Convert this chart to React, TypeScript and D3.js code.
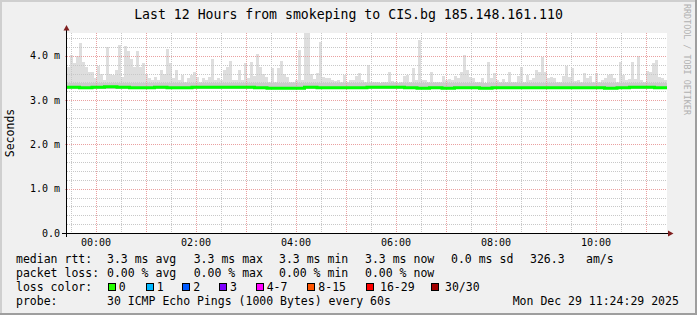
import React from "react";
import * as d3 from "d3";

const TITLE = "Last 12 Hours from smokeping to CIS.bg 185.148.161.110";
const END_TIME = new Date(2025, 11, 29, 11, 24, 29);
const SPAN_HOURS = 12;
const Y_TICKS = [0, 1, 2, 3, 4];
const Y_TICK_LABELS = ["0.0", "1.0 m", "2.0 m", "3.0 m", "4.0 m"];
const X_TICK_HOURS = [0, 2, 4, 6, 8, 10];
const X_TICK_LABELS = ["00:00", "02:00", "04:00", "06:00", "08:00", "10:00"];

// Max ping (ms) per 3.6-minute column, read from the smoke
const smokeMax = [
  3.75, 4.02, 3.83, 4.0, 4.3, 3.87, 3.74, 3.64, 3.64, 3.49,
  3.77, 3.6, 3.45, 4.21, 3.6, 3.57, 3.68, 4.25, 3.53, 4.22,
  4.1, 3.92, 3.75, 4.1, 3.75, 3.83, 3.6, 3.49, 3.45, 3.53,
  3.45, 3.68, 3.6, 4.15, 3.83, 3.49, 3.68, 3.45, 3.57, 3.42,
  3.49, 3.57, 3.64, 3.53, 3.42, 3.49, 3.45, 3.53, 3.92, 3.45,
  3.49, 3.45, 3.69, 3.74, 3.88, 3.45, 3.45, 3.69, 3.45, 3.83,
  3.49, 3.85, 3.54, 4.04, 3.75, 3.6, 3.53, 3.42, 3.73, 3.42,
  3.72, 3.88, 3.6, 3.53, 3.42, 3.42, 3.45, 4.12, 3.45, 4.51,
  4.51, 3.6, 3.47, 3.62, 4.32, 3.53, 3.49, 3.49, 3.45, 3.44,
  3.45, 3.42, 3.57, 3.4, 3.45, 3.45, 3.54, 3.62, 3.45, 3.42,
  3.79, 3.42, 3.4, 3.42, 3.38, 3.4, 3.42, 3.64, 3.44, 3.4,
  3.38, 3.42, 3.54, 3.57, 3.42, 3.73, 3.45, 4.36, 3.45, 3.45,
  3.42, 3.64, 3.42, 3.42, 3.42, 3.54, 3.45, 3.47, 3.45, 3.54,
  3.49, 3.64, 4.02, 3.68, 3.53, 3.49, 3.42, 3.42, 3.5, 3.38,
  3.87, 3.49, 3.62, 3.45, 3.42, 3.47, 3.42, 3.64, 3.42, 3.42,
  3.55, 3.75, 3.42, 3.57, 3.45, 3.49, 3.68, 3.64, 3.98, 3.64,
  3.49, 3.53, 3.49, 3.4, 3.42, 3.54, 3.77, 3.53, 3.73, 3.44,
  3.45, 3.4, 3.62, 3.49, 3.54, 3.42, 3.62, 3.4, 3.45, 3.49,
  3.57, 3.6, 3.49, 3.42, 3.87, 3.57, 3.45, 3.47, 3.87, 3.47,
  4.0, 3.45, 3.42, 3.65, 3.64, 3.83, 3.9, 3.53, 3.5, 3.45,
];
const SMOKE_MIN = 3.24;
const SMOKE_DENSE = 3.38;

// Median RTT (ms) per 15 minutes
const median = [
  3.29, 3.28, 3.29, 3.3, 3.29, 3.28, 3.28, 3.29, 3.28, 3.28, 3.29, 3.29,
  3.29, 3.29, 3.29, 3.28, 3.27, 3.27, 3.27, 3.29, 3.28, 3.28, 3.28, 3.28,
  3.29, 3.29, 3.29, 3.28, 3.27, 3.28, 3.27, 3.28, 3.28, 3.27, 3.28, 3.28,
  3.28, 3.28, 3.28, 3.28, 3.28, 3.28, 3.28, 3.27, 3.28, 3.29, 3.29, 3.28,
];

const RTT_ROW = ["median rtt:", "3.3 ms avg", "3.3 ms max", "3.3 ms min", "3.3 ms now", "0.0 ms sd", "326.3", "am/s"];
const LOSS_ROW = ["packet loss:", "0.00 % avg", "0.00 % max", "0.00 % min", "0.00 % now"];
const LOSS_LABELS = ["0", "1", "2", "3", "4-7", "8-15", "16-29", "30/30"];
const LOSS_COLORS = ["#26ff00", "#00b8ff", "#0059ff", "#7e00ff", "#ff00ff", "#ff5500", "#ff0000", "#a10000"];
const PROBE_ROW = ["probe:", "30 ICMP Echo Pings (1000 Bytes) every 60s", "Mon Dec 29 11:24:29 2025"];

const W = 697;
const H = 315;
const MONO = "'DejaVu Sans Mono', monospace";

export default function App() {
  const start = new Date(END_TIME.getTime() - SPAN_HOURS * 3600 * 1000);
  const x = d3.scaleTime().domain([start, END_TIME]).range([66, 666]);
  const y = d3.scaleLinear().domain([0, 4.515]).range([233, 33]);

  const colMs = (SPAN_HOURS * 3600 * 1000) / smokeMax.length;
  const cols = smokeMax.map((v, i) => {
    const t0 = new Date(start.getTime() + i * colMs);
    const t1 = new Date(start.getTime() + (i + 1) * colMs);
    return { x0: x(t0) + 1, x1: x(t1) + 1, v };
  });

  const medMs = (SPAN_HOURS * 3600 * 1000) / median.length;
  const medPts: [Date, number][] = median.map((v, i) => [new Date(start.getTime() + i * medMs), v]);
  medPts.push([END_TIME, median[median.length - 1]]);
  const medLine = d3
    .line<[Date, number]>()
    .x((d) => x(d[0]) + 1)
    .y((d) => y(d[1]))
    .curve(d3.curveStepAfter)(medPts);

  const halfHours = d3.timeMinute.every(30)!.range(start, END_TIME);
  const minorY = d3.range(1, 23).map((k) => k * 0.2).filter((v) => Math.abs(v - Math.round(v)) > 1e-6);

  const tickDate = (h: number) => new Date(2025, 11, 29, h, 0, 0);

  const rowY = [263, 277, 291, 305];
  const rttX = [16, 107, 193.7, 279, 365, 451, 530, 586];
  const lossX = [16, 107, 193.7, 279, 365];
  const boxX = [108.3, 145.7, 182.3, 219, 256, 307.3, 365.7, 430.7];
  const boxLabelX = [118.7, 156.7, 193.3, 230, 266.7, 318.3, 380, 445];
  const probeX = [16, 107, 512.7];

  return (
    <svg
      width={W}
      height={H}
      style={{ position: "absolute", left: 0, top: 0, display: "block" }}
      fontFamily={MONO}
    >
      <rect x={0} y={0} width={W} height={H} fill="#f0f0f0" />
      <rect x={0} y={0} width={W} height={2} fill="#cfcfcf" />
      <rect x={0} y={0} width={2} height={H} fill="#cfcfcf" />
      <rect x={0} y={H - 2} width={W} height={2} fill="#9e9e9e" />
      <rect x={W - 2} y={0} width={2} height={H} fill="#9e9e9e" />

      <rect x={67} y={33} width={600} height={200} fill="#ffffff" />

      {/* smoke */}
      <g shapeRendering="crispEdges">
        {cols.map((c, i) => (
          <rect key={"s" + i} x={c.x0} y={y(c.v)} width={c.x1 - c.x0} height={y(SMOKE_MIN) - y(c.v)} fill="#dedede" />
        ))}
        {cols.map((c, i) => (
          <rect
            key={"d" + i}
            x={c.x0}
            y={y(Math.min(c.v, SMOKE_DENSE))}
            width={c.x1 - c.x0}
            height={y(SMOKE_MIN) - y(Math.min(c.v, SMOKE_DENSE))}
            fill="#cbcbcb"
          />
        ))}
      </g>

      {/* grid */}
      <g shapeRendering="crispEdges">
        {halfHours.map((t, i) => {
          const major = t.getMinutes() === 0;
          const px = Math.round(x(t)) + 0.5;
          return (
            <line key={"vg" + i} x1={px} x2={px} y1={33} y2={233} stroke={major ? "#eaa0a0" : "#c8c8c8"} strokeDasharray="1,1" />
          );
        })}
        {minorY.map((v, i) => {
          const py = Math.round(y(v)) + 0.5;
          return <line key={"hg" + i} x1={67} x2={667} y1={py} y2={py} stroke="#c8c8c8" strokeDasharray="1,1" />;
        })}
        {Y_TICKS.filter((v) => v > 0).map((v, i) => {
          const py = Math.round(y(v)) + 0.5;
          return <line key={"mg" + i} x1={65} x2={667} y1={py} y2={py} stroke="#eaa0a0" strokeDasharray="1,1" />;
        })}
      </g>

      {/* median */}
      <path d={medLine || ""} fill="none" stroke="#00ff00" strokeWidth={3} />

      {/* axes */}
      <g shapeRendering="crispEdges">
        <line x1={66.5} x2={66.5} y1={237} y2={30} stroke="#000" />
        <line x1={62} x2={669} y1={233.5} y2={233.5} stroke="#000" />
      </g>
      <path d="M63.5,30.5 L69.5,30.5 L66.5,25 Z" fill="#7f1f1f" />
      <path d="M668,230.5 L668,236.5 L673.5,233.5 Z" fill="#7f1f1f" />

      {/* y labels */}
      {Y_TICKS.map((v, i) => (
        <text key={"yl" + i} x={60} y={y(v) + 3.6} fontSize={10} textAnchor="end" fill="#000">
          {Y_TICK_LABELS[i]}
        </text>
      ))}
      {/* x labels */}
      {X_TICK_HOURS.map((h, i) => (
        <text key={"xl" + i} x={x(tickDate(h)) + 0.5} y={246} fontSize={10} textAnchor="middle" fill="#000">
          {X_TICK_LABELS[i]}
        </text>
      ))}

      <text x={348.5} y={18.5} fontSize={13.2} textAnchor="middle" fill="#000">
        {TITLE}
      </text>
      <text transform="translate(14,133) rotate(-90)" fontSize={11.5} textAnchor="middle" fill="#000">
        Seconds
      </text>
      <text transform="translate(684,4) rotate(90)" fontSize={8.4} fill="#b0b0b0">
        RRDTOOL / TOBI OETIKER
      </text>

      {/* legend */}
      <g fontSize={11.5} fill="#000" style={{ whiteSpace: "pre" }}>
        {RTT_ROW.map((s, i) => (
          <text key={"r" + i} x={rttX[i]} y={rowY[0]}>{s}</text>
        ))}
        {LOSS_ROW.map((s, i) => (
          <text key={"l" + i} x={lossX[i]} y={rowY[1]}>{s}</text>
        ))}
        <text x={16} y={rowY[2]}>loss color:</text>
        {LOSS_LABELS.map((s, i) => (
          <g key={"b" + i}>
            <rect x={Math.round(boxX[i]) + 0.5} y={283.5} width={7} height={7} fill={LOSS_COLORS[i]} stroke="#000" />
            <text x={boxLabelX[i]} y={rowY[2]}>{s}</text>
          </g>
        ))}
        {PROBE_ROW.map((s, i) => (
          <text key={"p" + i} x={probeX[i]} y={rowY[3]}>{s}</text>
        ))}
      </g>
    </svg>
  );
}
